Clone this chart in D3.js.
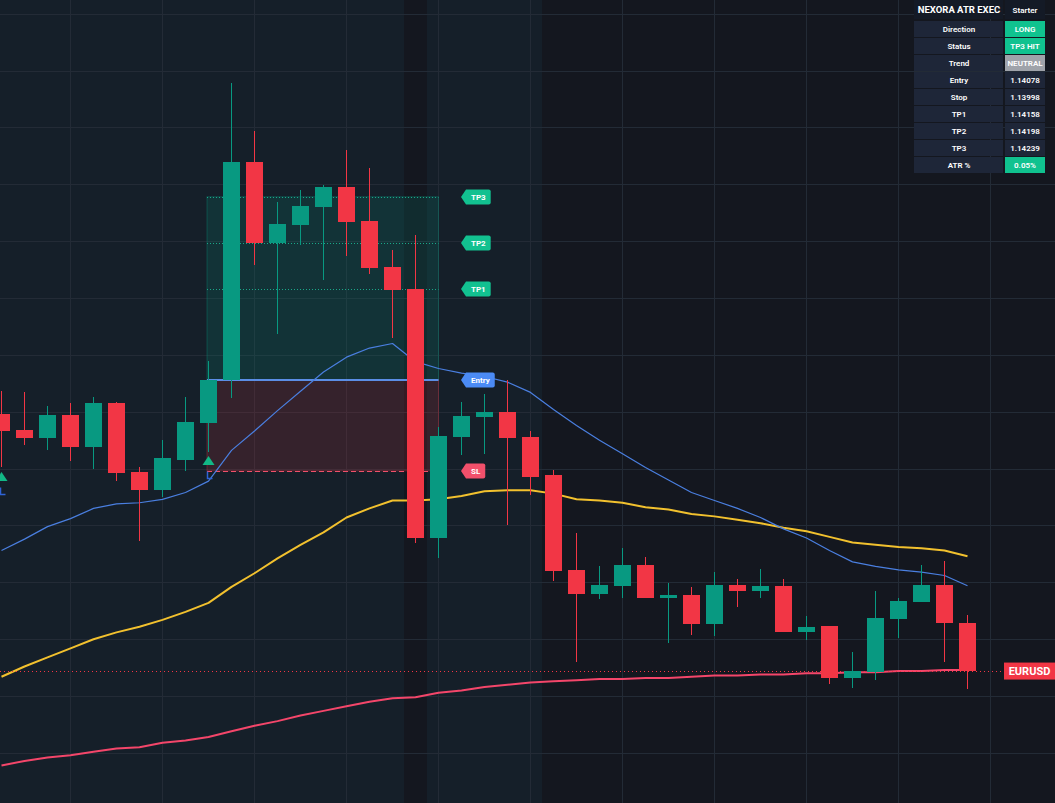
<!DOCTYPE html>
<html>
<head>
<meta charset="utf-8">
<script src="https://cdn.jsdelivr.net/npm/d3@7"></script>
<style>
    html, body { margin: 0; padding: 0; background: #14171f; overflow: hidden; }
    svg { display: block; font-family: Roboto, "Noto Sans", sans-serif; }
</style>
</head>
<body>
<svg id="chart" width="1055" height="803"></svg>
<script>
const opens  = [1.14048, 1.14034, 1.14027, 1.14047, 1.14019, 1.14058, 1.13997, 1.13981, 1.14008, 1.14040,
                1.14078, 1.14270, 1.14198, 1.14214, 1.14230, 1.14248, 1.14218, 1.14177, 1.14158, 1.13939,
                1.14028, 1.14045, 1.14050, 1.14028, 1.13994, 1.13911, 1.13890, 1.13897, 1.13915, 1.13886,
                1.13889, 1.13863, 1.13898, 1.13892, 1.13897, 1.13856, 1.13862, 1.13816, 1.13821, 1.13868,
                1.13883, 1.13898, 1.13864];
const highs  = [1.14068, 1.14067, 1.14055, 1.14058, 1.14063, 1.14059, 1.14001, 1.14025, 1.14063, 1.14095,
                1.14339, 1.14297, 1.14234, 1.14245, 1.14249, 1.14280, 1.14264, 1.14192, 1.14205, 1.14037,
                1.14059, 1.14066, 1.14078, 1.14033, 1.13999, 1.13943, 1.13914, 1.13930, 1.13922, 1.13899,
                1.13896, 1.13909, 1.13903, 1.13912, 1.13903, 1.13870, 1.13862, 1.13839, 1.13892, 1.13886,
                1.13915, 1.13919, 1.13871];
const lows   = [1.14001, 1.14021, 1.14016, 1.14007, 1.14000, 1.13989, 1.13936, 1.13975, 1.13998, 1.14015,
                1.14062, 1.14179, 1.14118, 1.14197, 1.14166, 1.14187, 1.14171, 1.14115, 1.13935, 1.13921,
                1.14012, 1.14013, 1.13950, 1.13977, 1.13901, 1.13830, 1.13885, 1.13886, 1.13886, 1.13847,
                1.13854, 1.13853, 1.13878, 1.13886, 1.13856, 1.13849, 1.13811, 1.13807, 1.13814, 1.13851,
                1.13883, 1.13830, 1.13806];
const closes = [1.14033, 1.14027, 1.14047, 1.14019, 1.14058, 1.13996, 1.13981, 1.14009, 1.14041, 1.14078,
                1.14270, 1.14198, 1.14215, 1.14231, 1.14248, 1.14217, 1.14176, 1.14157, 1.13939, 1.14029,
                1.14046, 1.14050, 1.14027, 1.13993, 1.13910, 1.13890, 1.13898, 1.13915, 1.13886, 1.13889,
                1.13863, 1.13898, 1.13892, 1.13897, 1.13856, 1.13861, 1.13816, 1.13822, 1.13869, 1.13884,
                1.13898, 1.13864, 1.13822];

const fastMa = [1.13928, 1.13938, 1.13949, 1.13956, 1.13965, 1.13969, 1.13970, 1.13973, 1.13979, 1.13989,
                1.14016, 1.14033, 1.14051, 1.14068, 1.14085, 1.14098, 1.14106, 1.14110, 1.14094, 1.14088,
                1.14084, 1.14081, 1.14076, 1.14067, 1.14052, 1.14038, 1.14025, 1.14013, 1.14001, 1.13990,
                1.13979, 1.13972, 1.13965, 1.13957, 1.13947, 1.13939, 1.13928, 1.13918, 1.13914, 1.13911,
                1.13909, 1.13906, 1.13897];
const midMa  = [1.13817, 1.13826, 1.13834, 1.13842, 1.13850, 1.13856, 1.13861, 1.13867, 1.13874, 1.13882,
                1.13896, 1.13908, 1.13921, 1.13933, 1.13944, 1.13957, 1.13965, 1.13972, 1.13972, 1.13973,
                1.13976, 1.13980, 1.13981, 1.13981, 1.13978, 1.13973, 1.13972, 1.13970, 1.13966, 1.13964,
                1.13960, 1.13958, 1.13955, 1.13952, 1.13948, 1.13945, 1.13940, 1.13935, 1.13933, 1.13931,
                1.13930, 1.13928, 1.13923];
const slowMa = [1.13739, 1.13743, 1.13746, 1.13748, 1.13751, 1.13754, 1.13755, 1.13759, 1.13761, 1.13764,
                1.13769, 1.13774, 1.13778, 1.13783, 1.13787, 1.13791, 1.13795, 1.13798, 1.13799, 1.13803,
                1.13805, 1.13808, 1.13810, 1.13812, 1.13813, 1.13814, 1.13815, 1.13815, 1.13816, 1.13816,
                1.13817, 1.13818, 1.13818, 1.13819, 1.13819, 1.13820, 1.13820, 1.13821, 1.13821, 1.13822,
                1.13822, 1.13823, 1.13823];

const sessionBars = [0, 1, 2, 3, 4, 5, 6, 7, 8, 9, 10, 11, 12, 13, 14, 15, 16, 17, 19, 20, 21, 22, 23];
const signalBars = [0, 9];

const levelNames  = ["TP3", "TP2", "TP1", "Entry", "SL"];
const levelPrices = [1.14239, 1.14198, 1.14158, 1.14078, 1.13998];
const tradeBars = [9, 19];

const tableTitle = ["NEXORA ATR EXEC", "Starter"];
const tableLabels = ["Direction", "Status", "Trend", "Entry", "Stop", "TP1", "TP2", "TP3", "ATR %"];
const tableValues = ["LONG", "TP3 HIT", "NEUTRAL", "1.14078", "1.13998", "1.14158", "1.14198", "1.14239", "0.05%"];

const symbol = "EURUSD";

class AtrChart {

    constructor(zone) {
        this.svg = zone;
        this.W = 1055;
        this.H = 803;
        this.x = d3.scaleLinear().domain([0, 42]).range([1.5, 967.5]);
        this.y = d3.scaleLinear().domain([1.13706, 1.14412]).range([803, 0]);
        this.step = this.x(1) - this.x(0);
        this.candles = opens.map((o, i) => ({ i: i, o: o, h: highs[i], l: lows[i], c: closes[i] }));
    }

    background() {
        this.svg.append("rect")
            .attr("width", this.W).attr("height", this.H)
            .attr("fill", "#14171f")

        this.svg.append("g").selectAll("rect")
            .data(sessionBars)
            .enter()
            .append("rect")
            .attr("x", i => this.x(i) - this.step / 2)
            .attr("width", this.step)
            .attr("y", 0).attr("height", this.H)
            .attr("fill", "#151f29")
            .attr("shape-rendering", "crispEdges")

        let grid = this.svg.append("g")
            .attr("stroke", "#232b36")
            .attr("shape-rendering", "crispEdges")

        grid.selectAll("line.h")
            .data(this.y.ticks(14))
            .enter()
            .append("line")
            .attr("x1", 0).attr("x2", this.W)
            .attr("y1", d => Math.round(this.y(d)) + 0.5)
            .attr("y2", d => Math.round(this.y(d)) + 0.5)

        grid.selectAll("line.v")
            .data(d3.range(3, 44, 4))
            .enter()
            .append("line")
            .attr("y1", 0).attr("y2", this.H)
            .attr("x1", i => Math.floor(this.x(i)) + 0.5)
            .attr("x2", i => Math.floor(this.x(i)) + 0.5)
    }

    tradeZone() {
        let x0 = this.x(tradeBars[0]) - 1.5;
        let x1 = this.x(tradeBars[1]);
        let yTp3 = this.y(levelPrices[0]);
        let yEntry = this.y(levelPrices[3]);
        let yStop = this.y(levelPrices[4]);

        let g = this.svg.append("g");

        g.append("rect")
            .attr("x", x0).attr("width", x1 - x0)
            .attr("y", yTp3).attr("height", yEntry - yTp3)
            .attr("fill", "rgba(8,153,129,0.16)")
            .attr("stroke", "rgba(8,153,129,0.35)")

        g.append("rect")
            .attr("x", x0).attr("width", x1 - x0)
            .attr("y", yEntry).attr("height", yStop - yEntry)
            .attr("fill", "rgba(242,54,69,0.15)")
            .attr("stroke", "rgba(242,54,69,0.3)")

        g.selectAll("line.tp")
            .data(levelPrices.slice(0, 3))
            .enter()
            .append("line")
            .attr("x1", x0).attr("x2", x1)
            .attr("y1", d => Math.round(this.y(d)) + 0.5)
            .attr("y2", d => Math.round(this.y(d)) + 0.5)
            .attr("stroke", "#1aa889")
            .attr("stroke-dasharray", "1,2")

        g.append("line")
            .attr("x1", x0).attr("x2", x1)
            .attr("y1", yEntry).attr("y2", yEntry)
            .attr("stroke", "#5b8ee6")
            .attr("stroke-width", 2)

        g.append("line")
            .attr("x1", x0).attr("x2", x1)
            .attr("y1", Math.round(yStop) + 0.5).attr("y2", Math.round(yStop) + 0.5)
            .attr("stroke", "#f0506a")
            .attr("stroke-width", 1.2)
            .attr("stroke-dasharray", "5,3")
    }

    averages() {
        let line = d3.line()
            .x((d, i) => this.x(i))
            .y(d => this.y(d))

        let series = [[slowMa, "#f4466a", 2], [midMa, "#f2c12e", 2], [fastMa, "#4a7fe0", 1.2]];

        this.svg.append("g").selectAll("path")
            .data(series)
            .enter()
            .append("path")
            .attr("d", s => line(s[0]))
            .attr("fill", "none")
            .attr("stroke", s => s[1])
            .attr("stroke-width", s => s[2])
            .attr("stroke-linejoin", "round")
    }

    priceLine() {
        let last = closes[closes.length - 1];
        this.svg.append("line")
            .attr("x1", 0).attr("x2", 1004)
            .attr("y1", Math.round(this.y(last)) + 0.5)
            .attr("y2", Math.round(this.y(last)) + 0.5)
            .attr("stroke", "#f23645")
            .attr("stroke-dasharray", "1,3")
    }

    drawCandles() {
        let g = this.svg.append("g").attr("shape-rendering", "crispEdges");
        let col = d => d.c >= d.o ? "#089981" : "#f23645";

        let bars = g.selectAll("g")
            .data(this.candles)
            .enter()
            .append("g")

        bars.append("line")
            .attr("x1", d => Math.floor(this.x(d.i)) + 0.5)
            .attr("x2", d => Math.floor(this.x(d.i)) + 0.5)
            .attr("y1", d => this.y(d.h))
            .attr("y2", d => this.y(d.l))
            .attr("stroke", col)

        bars.append("rect")
            .attr("x", d => this.x(d.i) - 8.5)
            .attr("width", 17)
            .attr("y", d => this.y(Math.max(d.o, d.c)))
            .attr("height", d => Math.max(1, this.y(Math.min(d.o, d.c)) - this.y(Math.max(d.o, d.c))))
            .attr("fill", col)
    }

    signals() {
        let g = this.svg.append("g");
        let marks = g.selectAll("g")
            .data(signalBars)
            .enter()
            .append("g")
            .attr("transform", i => `translate(${this.x(i)},${this.y(lows[i])})`)

        marks.append("path")
            .attr("d", "M0,4.5 L6,13.5 L-6,13.5 Z")
            .attr("fill", "#12b886")

        marks.append("path")
            .attr("d", "M-1,20 L-1,27 L4,27")
            .attr("fill", "none")
            .attr("stroke", "#2f63d6")
            .attr("stroke-width", 1.5)
    }

    levelTags() {
        let tagX = this.x(tradeBars[1] + 1) - 0.5;
        let fills = ["#12c190", "#12c190", "#12c190", "#4b8bf5", "#f2506b"];

        let tags = this.svg.append("g").selectAll("g")
            .data(levelNames)
            .enter()
            .append("g")
            .attr("transform", (d, i) => `translate(${tagX},${Math.round(this.y(levelPrices[i]))})`)

        tags.each(function (d, i) {
            let tag = d3.select(this);
            let txt = tag.append("text")
                .attr("y", 2.9)
                .attr("fill", "#ffffff")
                .attr("font-size", 8)
                .attr("font-weight", 700)
                .attr("text-anchor", "middle")
                .text(d)
            let w = txt.node().getComputedTextLength() + 10;
            let r = 5 + w;
            txt.attr("x", 5 + w / 2);
            tag.insert("path", "text")
                .attr("d", `M0,0 L5,-7.5 L${r - 2},-7.5 Q${r},-7.5 ${r},-5.5 L${r},5.5 Q${r},7.5 ${r - 2},7.5 L5,7.5 Z`)
                .attr("fill", fills[i])
        })
    }

    symbolTag() {
        let yc = this.y(closes[closes.length - 1]);
        let g = this.svg.append("g");
        g.append("rect")
            .attr("x", 1004).attr("width", 51)
            .attr("y", yc - 8.5).attr("height", 17)
            .attr("fill", "#f23645")
        g.append("text")
            .attr("x", 1029.5).attr("y", yc + 4)
            .attr("text-anchor", "middle")
            .attr("fill", "#ffffff")
            .attr("font-size", 11)
            .attr("font-weight", 700)
            .text(symbol)
    }

    table() {
        let g = this.svg.append("g").attr("shape-rendering", "crispEdges");
        let left = 914, split = 1004, right = 1045, rowH = 17;
        let valueFill = (label, v) => {
            if (v === "NEUTRAL") return "#9fa3aa";
            if (v === "LONG" || v === "TP3 HIT" || label === "ATR %") return "#10c28f";
            return "#1e2638";
        };

        g.append("rect").attr("x", left).attr("y", 0).attr("width", split - left - 1).attr("height", 19).attr("fill", "#141a26");
        g.append("rect").attr("x", split + 1).attr("y", 0).attr("width", right - split - 1).attr("height", 19).attr("fill", "#141a26");

        g.append("text")
            .attr("x", (left + split) / 2).attr("y", 13)
            .attr("text-anchor", "middle").attr("fill", "#ffffff")
            .attr("font-size", 9.5).attr("font-weight", 700)
            .text(tableTitle[0])
        g.append("text")
            .attr("x", (split + right) / 2 + 0.5).attr("y", 12.5)
            .attr("text-anchor", "middle").attr("fill", "#ffffff")
            .attr("font-size", 8).attr("font-weight", 600)
            .text(tableTitle[1])

        let rows = g.selectAll("g.row")
            .data(tableLabels)
            .enter()
            .append("g")
            .attr("transform", (d, i) => `translate(0,${21 + i * rowH})`)

        rows.append("rect")
            .attr("x", left).attr("width", split - left - 1)
            .attr("height", rowH - 1)
            .attr("fill", "#1e2638")
        rows.append("rect")
            .attr("x", split + 1).attr("width", right - split - 1)
            .attr("height", rowH - 1)
            .attr("fill", (d, i) => valueFill(d, tableValues[i]))
        rows.append("text")
            .attr("x", (left + split) / 2).attr("y", 11)
            .attr("text-anchor", "middle").attr("fill", "#ffffff")
            .attr("font-size", 8).attr("font-weight", 600)
            .text(d => d)
        rows.append("text")
            .attr("x", (split + right) / 2 + 0.5).attr("y", 11)
            .attr("text-anchor", "middle").attr("fill", "#ffffff")
            .attr("font-size", 8).attr("font-weight", 600)
            .text((d, i) => tableValues[i])
    }

    display() {
        this.background();
        this.tradeZone();
        this.averages();
        this.priceLine();
        this.drawCandles();
        this.signals();
        this.levelTags();
        this.symbolTag();
        this.table();
    }
}

new AtrChart(d3.select("#chart")).display();
</script>
</body>
</html>
